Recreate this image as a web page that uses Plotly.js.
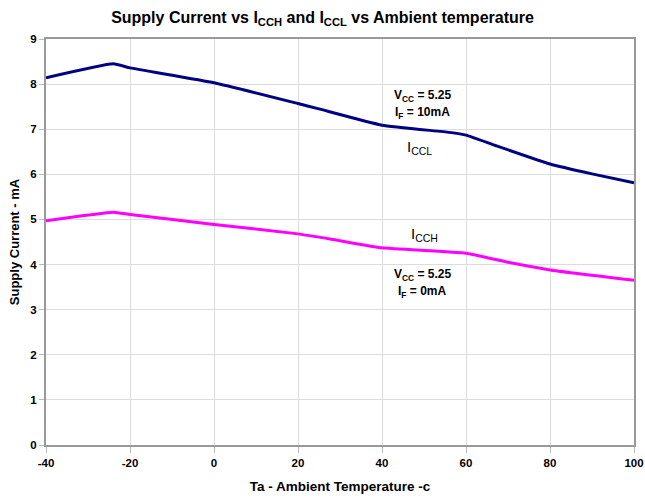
<!DOCTYPE html>
<html>
<head>
<meta charset="utf-8">
<script src="https://cdn.plot.ly/plotly-3.0.1.min.js"></script>
<style>html,body{margin:0;padding:0;background:#fff;}#chart{width:645px;height:498px;}</style>
</head>
<body>
<div id="chart"></div>
<script>
var temperature_ccl = [-40, -24, -20, 0, 20, 25, 40, 56, 60, 67, 80, 90, 100];
var icclValues      = [8.14, 8.45, 8.36, 8.03, 7.57, 7.45, 7.09, 6.93, 6.87, 6.64, 6.23, 6.01, 5.81];
var temperature_cch = [-40, -24, -20, 0, 20, 28, 40, 60, 70, 80, 100];
var icchValues      = [4.97, 5.16, 5.11, 4.89, 4.68, 4.56, 4.37, 4.25, 4.05, 3.88, 3.65];
var xTicks = [-40, -20, 0, 20, 40, 60, 80, 100];
var yTicks = [0, 1, 2, 3, 4, 5, 6, 7, 8, 9];

var fontFam = 'Liberation Sans, Arial, sans-serif';
var traces = [
  {x: temperature_ccl, y: icclValues, mode: 'lines', name: 'ICCL',
   line: {color: '#000080', width: 3, shape: 'spline', smoothing: 0.4}},
  {x: temperature_cch, y: icchValues, mode: 'lines', name: 'ICCH',
   line: {color: '#FF00FF', width: 3, shape: 'spline', smoothing: 0.4}}
];

var annBold = {family: fontFam, size: 12, color: '#000'};
var labFont = {family: fontFam, size: 15, color: '#000'};
var layout = {
  width: 645, height: 498,
  margin: {l: 46, r: 11, t: 39, b: 53},
  paper_bgcolor: '#fff', plot_bgcolor: '#fff',
  showlegend: false,
  title: {text: '<b>Supply Current vs I<sub>CCH</sub> and I<sub>CCL</sub> vs Ambient temperature</b>',
          font: {family: fontFam, size: 16, color: '#000'}, x: 0.5, xanchor: 'center', y: 0.965, yanchor: 'middle'},
  xaxis: {range: [-40, 100], tickvals: xTicks, ticktext: xTicks.map(String),
          showgrid: true, gridcolor: '#dcdcdc', gridwidth: 1,
          showline: true, linecolor: '#999', linewidth: 2, mirror: true,
          ticks: 'outside', ticklen: 6, tickcolor: '#bbb', zeroline: false,
          tickfont: {family: fontFam, size: 11.5, color: '#000', weight: 'bold'},
          title: {text: '<b>Ta - Ambient Temperature -c</b>', font: {family: fontFam, size: 13.5, color: '#000'}, standoff: 14}},
  yaxis: {range: [0, 9], tickvals: yTicks, ticktext: yTicks.map(String),
          showgrid: true, gridcolor: '#dcdcdc', gridwidth: 1,
          showline: true, linecolor: '#999', linewidth: 2, mirror: true,
          ticks: 'outside', ticklen: 5, tickcolor: '#bbb', zeroline: false,
          tickfont: {family: fontFam, size: 11.5, color: '#000', weight: 'bold'},
          title: {text: '<b>Supply Current - mA</b>', font: {family: fontFam, size: 13, color: '#000'}, standoff: 8}},
  annotations: [
    {x: 49.6, y: 7.74, xref: 'x', yref: 'y', showarrow: false,
     text: '<b>V<sub>CC</sub> = 5.25</b>', font: annBold},
    {x: 49.6, y: 7.36, xref: 'x', yref: 'y', showarrow: false,
     text: '<b>I<sub>F</sub> = 10mA</b>', font: annBold},
    {x: 49, y: 6.6, xref: 'x', yref: 'y', showarrow: false,
     text: 'I<sub>CCL</sub>', font: labFont},
    {x: 50.2, y: 4.66, xref: 'x', yref: 'y', showarrow: false,
     text: 'I<sub>CCH</sub>', font: labFont},
    {x: 49.6, y: 3.77, xref: 'x', yref: 'y', showarrow: false,
     text: '<b>V<sub>CC</sub> = 5.25</b>', font: annBold},
    {x: 49.6, y: 3.4, xref: 'x', yref: 'y', showarrow: false,
     text: '<b>I<sub>F</sub> = 0mA</b>', font: annBold}
  ]
};
Plotly.newPlot('chart', traces, layout, {displayModeBar: false, staticPlot: true});
</script>
</body>
</html>
